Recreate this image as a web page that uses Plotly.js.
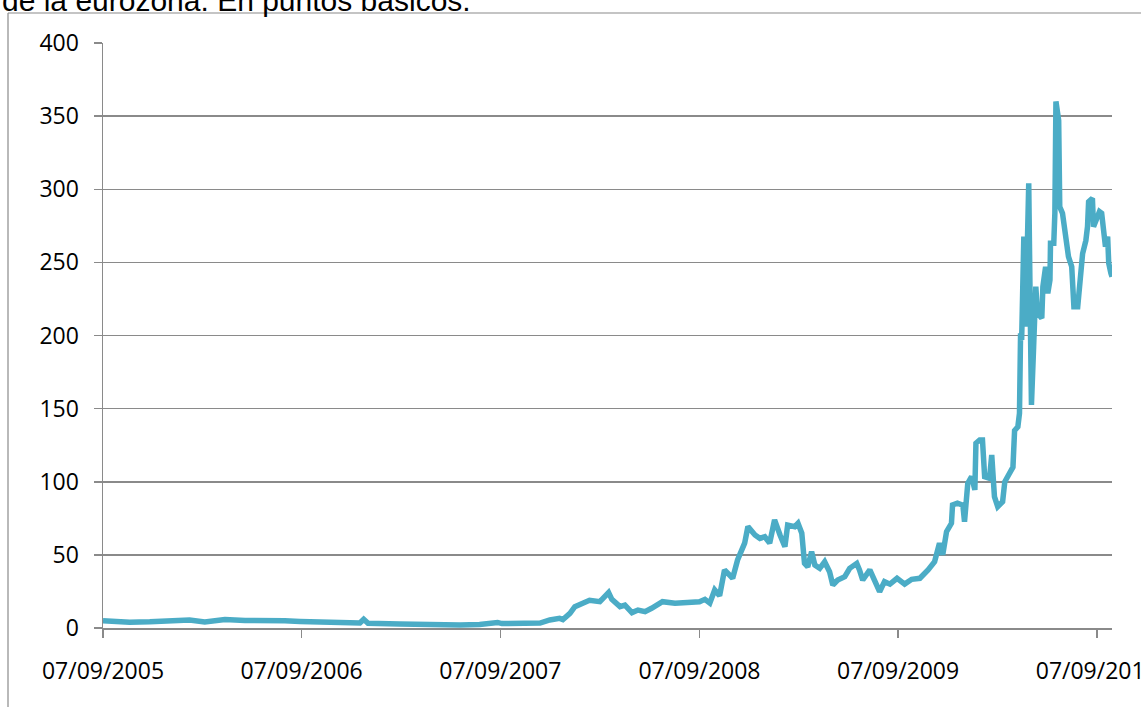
<!DOCTYPE html>
<html>
<head>
<meta charset="utf-8">
<script src="https://cdn.plot.ly/plotly-3.0.1.min.js"></script>
<style>
  html, body { margin: 0; padding: 0; background: #fff; }
  #chart { width: 1141px; height: 707px; }
</style>
</head>
<body>
<div id="chart"></div>
<script>
// Spread in basis points
const dates = [
  "2005-09-07","2005-09-29","2005-10-26","2005-12-02","2006-01-17","2006-02-13","2006-03-13","2006-04-19",
  "2006-05-26","2006-07-01","2006-08-07","2006-09-04","2006-10-29","2006-12-23","2006-12-30","2007-01-07",
  "2007-03-06","2007-04-30","2007-06-25","2007-07-31","2007-09-02","2007-09-10","2007-10-13","2007-11-19",
  "2007-12-07","2007-12-25","2007-12-31","2008-01-13","2008-01-22","2008-01-31","2008-02-18","2008-03-08",
  "2008-03-17","2008-03-24","2008-03-30","2008-04-14","2008-04-23","2008-05-06","2008-05-17","2008-05-30",
  "2008-06-11","2008-07-01","2008-07-24","2008-08-20","2008-09-07","2008-09-17","2008-09-26","2008-10-05",
  "2008-10-14","2008-10-23","2008-11-07","2008-11-16","2008-11-24","2008-11-29","2008-12-05","2008-12-18",
  "2008-12-27","2009-01-05","2009-01-14","2009-01-23","2009-02-02","2009-02-11","2009-02-16","2009-03-01",
  "2009-03-07","2009-03-14","2009-03-19","2009-03-25","2009-04-01","2009-04-07","2009-04-16","2009-04-25",
  "2009-05-04","2009-05-10","2009-05-19","2009-06-01","2009-06-10","2009-06-23","2009-06-28","2009-07-04",
  "2009-07-17","2009-07-30","2009-08-04","2009-08-13","2009-08-23","2009-09-05","2009-09-19","2009-10-02",
  "2009-10-17","2009-11-01","2009-11-13","2009-11-22","2009-11-28","2009-12-05","2009-12-14","2009-12-16",
  "2009-12-25","2010-01-04","2010-01-07","2010-01-13","2010-01-20","2010-01-26","2010-01-28","2010-02-04",
  "2010-02-09","2010-02-13","2010-02-22","2010-02-26","2010-03-03","2010-03-09","2010-03-18","2010-03-22",
  "2010-03-27","2010-03-31","2010-04-06","2010-04-09","2010-04-15","2010-04-18","2010-04-20","2010-04-22",
  "2010-04-26","2010-04-29","2010-05-01","2010-05-05","2010-05-08","2010-05-10","2010-05-14","2010-05-18",
  "2010-05-21","2010-05-29","2010-05-31","2010-06-05","2010-06-09","2010-06-13","2010-06-14","2010-06-20",
  "2010-06-22","2010-06-24","2010-06-29","2010-07-01","2010-07-06","2010-07-12","2010-07-14","2010-07-17",
  "2010-07-23","2010-07-27","2010-08-03","2010-08-07","2010-08-10","2010-08-12","2010-08-18","2010-08-21",
  "2010-08-23","2010-08-27","2010-08-30","2010-09-01","2010-09-05","2010-09-09","2010-09-12","2010-09-16",
  "2010-09-20","2010-09-23","2010-09-27","2010-09-29","2010-10-03","2010-10-05"
];
const spread = [
  5.0, 4.3, 4.0, 4.2, 4.6, 5.4, 4.2, 5.8,
  5.2, 5.4, 5.0, 4.5, 3.7, 3.4, 6.0, 3.2,
  2.7, 2.2, 2.0, 2.4, 3.8, 3.0, 3.3, 3.4,
  5.5, 6.6, 5.8, 10.0, 14.6, 16.2, 19.0, 18.0,
  21.4, 24.2, 19.6, 14.6, 15.7, 10.5, 12.3, 11.2,
  13.5, 18.0, 16.9, 18.0, 18.0, 19.6, 17.0, 26.0,
  22.0, 39.7, 34.0, 46.5, 54.5, 58.0, 69.3, 63.6,
  61.3, 62.4, 58.0, 73.9, 63.6, 55.6, 70.4, 69.3,
  71.6, 64.8, 44.2, 41.9, 52.2, 43.1, 40.8, 45.3,
  38.5, 29.4, 32.8, 35.1, 40.8, 44.2, 39.7, 32.8,
  39.7, 28.3, 24.8, 31.7, 30.0, 34.0, 30.0, 33.3,
  34.0, 39.7, 45.3, 58.0, 50.0, 65.9, 71.6, 84.1,
  85.3, 84.0, 72.7, 98.9, 103.5, 94.4, 126.3, 128.6,
  128.6, 103.5, 102.4, 118.3, 89.8, 83.0, 86.4, 100.0,
  103.5, 104.6, 110.0, 135.0, 137.6, 146.8, 201.5, 197.0,
  267.6, 206.0, 238.0, 304.0, 210.0, 152.5, 192.3, 233.4,
  215.2, 211.8, 233.4, 247.0, 228.9, 238.0, 263.0, 263.0,
  283.6, 360.0, 347.0, 288.0, 283.6, 265.0, 256.0, 254.0,
  247.0, 219.7, 219.7, 238.0, 242.5, 256.0, 265.0, 274.4,
  291.5, 292.7, 293.8, 274.4, 279.0, 283.6, 284.7, 283.6,
  267.6, 260.7, 267.6, 249.4, 242.5, 240.2
];
const tickDates = ["2005-09-07","2006-09-07","2007-09-07","2008-09-07","2009-09-07","2010-09-07"];
const tickLabels = ["07/09/2005","07/09/2006","07/09/2007","07/09/2008","07/09/2009","07/09/2010"];
const yTicks = [0, 50, 100, 150, 200, 250, 300, 350, 400];
const headerText = "de la eurozona. En puntos básicos.";

const gray = "#8a8a8a";
const trace = {
  x: dates, y: spread, type: "scatter", mode: "lines",
  line: { color: "#4BACC6", width: 5.5, shape: "linear" },
  hoverinfo: "x+y"
};

const layout = {
  width: 1141, height: 707,
  margin: { l: 103, r: 29, t: 43, b: 79, pad: 0 },
  paper_bgcolor: "#ffffff", plot_bgcolor: "#ffffff",
  showlegend: false,
  font: { family: "Open Sans, sans-serif", size: 23, color: "#000" },
  xaxis: {
    type: "date",
    range: ["2005-09-07", "2010-10-05"],
    tickmode: "array", tickvals: tickDates, ticktext: tickLabels,
    showgrid: false, zeroline: false,
    showline: true, linecolor: gray, linewidth: 1.5,
    ticks: "outside", ticklen: 8, tickcolor: gray, tickwidth: 1.5,
    ticklabelstandoff: 14,
    ticklabeloverflow: "allow",
    tickfont: { family: "Open Sans, sans-serif", size: 23, color: "#000" },
    fixedrange: true
  },
  yaxis: {
    range: [0, 400],
    tickmode: "array", tickvals: yTicks, ticktext: yTicks.map(String),
    showgrid: true, gridcolor: gray, gridwidth: 1.5,
    zeroline: false,
    showline: true, linecolor: gray, linewidth: 1.5,
    ticks: "outside", ticklen: 8, tickcolor: gray, tickwidth: 1.5,
    ticklabelstandoff: 10,
    tickfont: { family: "Open Sans, sans-serif", size: 23, color: "#000" },
    fixedrange: true
  },
  shapes: [
    { type: "line", xref: "paper", yref: "paper", x0: (8-103)/1009, x1: (8-103)/1009, y0: (628-13)/585, y1: (628-720)/585,
      line: { color: gray, width: 1.2 } },
    { type: "line", xref: "paper", yref: "paper", x0: (8-103)/1009, x1: (1150-103)/1009, y0: (628-13)/585, y1: (628-13)/585,
      line: { color: gray, width: 1.2 } }
  ],
  annotations: [
    { text: headerText, xref: "paper", yref: "paper", x: (0-103)/1009, y: (628-19)/585,
      xanchor: "left", yanchor: "bottom", showarrow: false,
      font: { family: "Liberation Sans, Arial, sans-serif", size: 30, color: "#000" } }
  ]
};

Plotly.newPlot("chart", [trace], layout, { displayModeBar: false, staticPlot: true });
</script>
</body>
</html>
